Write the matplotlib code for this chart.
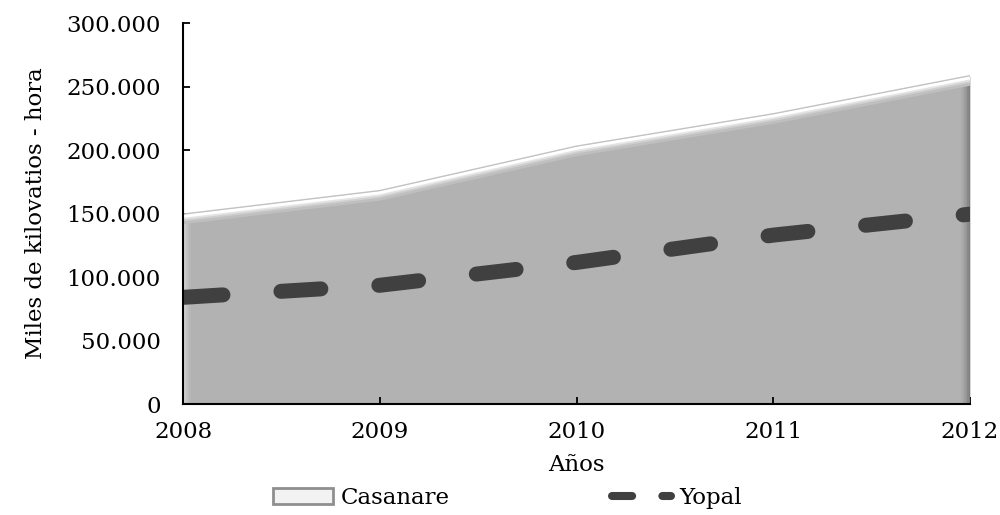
import matplotlib
matplotlib.use("Agg")
import matplotlib.pyplot as plt
from matplotlib.lines import Line2D
from matplotlib.patches import Patch
from matplotlib.ticker import FuncFormatter
import matplotlib.transforms as mtransforms

years = [2008, 2009, 2010, 2011, 2012]
casanare = [149000, 167500, 202500, 228000, 258000]
yopal = [84000, 93500, 111500, 133000, 149500]
yticks = [0, 50000, 100000, 150000, 200000, 250000, 300000]

plt.rcParams['font.family'] = ['DejaVu Serif']
FS = 16.5

fig = plt.figure(figsize=(10, 5.15), dpi=100)
ax = fig.add_axes([0.183, 0.2155, 0.787, 0.7398])

def shifted(dx, dy):
    return ax.transData + mtransforms.ScaledTranslation(dx / 100, dy / 100, fig.dpi_scale_trans)

# Casanare area
area = ax.fill_between(years, casanare, 0, color='#b2b2b2', lw=0, zorder=1)
clip = area.get_paths()[0]
# bevel on top edge
top_layers = [(0.4, '#c2c2c2', 1.4, False), (-1.8, '#ffffff', 3.2, True),
              (-4.4, '#e4e4e4', 2.0, True), (-6.2, '#cfcfcf', 2.0, True),
              (-8.0, '#bfbfbf', 2.0, True)]
for dy, c, lw, do_clip in top_layers:
    ln, = ax.plot(years, casanare, color=c, lw=lw, zorder=2, solid_capstyle='butt',
                  transform=shifted(0, dy))
    if do_clip:
        ln.set_clip_path(clip, ax.transData)
# right edge shadow
right_layers = [(-1, '#7c7c7c'), (-2.5, '#888888'), (-4, '#939393'), (-5.5, '#9d9d9d'),
                (-7, '#a5a5a5'), (-8.5, '#ababab')]
for dx, c in right_layers:
    ln, = ax.plot([years[-1], years[-1]], [0, casanare[-1]], color=c, lw=1.6, zorder=1.8,
                  solid_capstyle='butt', transform=shifted(dx, 0))
    ln.set_clip_path(clip, ax.transData)
# left edge highlight
left_layers = [(1, '#d2d2d2'), (2.5, '#cbcbcb'), (4, '#c3c3c3'), (5.5, '#bcbcbc'), (7, '#b7b7b7')]
for dx, c in left_layers:
    ln, = ax.plot([years[0], years[0]], [0, casanare[0]], color=c, lw=1.6, zorder=1.8,
                  solid_capstyle='butt', transform=shifted(dx, 0))
    ln.set_clip_path(clip, ax.transData)

# Yopal dashed line
ax.plot(years, yopal, color='#404040', lw=10.8, dashes=(2.67, 3.87),
        dash_capstyle='round', zorder=3)

ax.set_xlim(2008, 2012)
ax.set_ylim(0, 300000)
ax.set_xticks(years)
ax.set_yticks(yticks)
ax.yaxis.set_major_formatter(FuncFormatter(lambda v, p: f"{int(v):,}".replace(",", ".")))
ax.tick_params(axis='both', direction='in', length=5, width=1.3, labelsize=FS, colors='black')
ax.tick_params(axis='y', pad=16)
ax.tick_params(axis='x', pad=12)
for s in ['top', 'right']:
    ax.spines[s].set_visible(False)
for s in ['left', 'bottom']:
    ax.spines[s].set_linewidth(1.5)
    ax.spines[s].set_zorder(4)

ax.set_xlabel('Años', fontsize=FS, labelpad=8)
ax.set_ylabel('Miles de kilovatios - hora', fontsize=FS, labelpad=14)

h1 = Patch(facecolor='#f2f2f2', edgecolor='#8f8f8f', lw=2)
h2 = Line2D([0], [0], color='#404040', lw=5.8, dashes=(2.5, 3.75), dash_capstyle='round')
fig.legend([h1, h2], ['Casanare', 'Yopal'], loc='center', bbox_to_anchor=(0.5075, 0.033),
           ncol=2, frameon=False, fontsize=FS, handlelength=2.6, handletextpad=0.35,
           columnspacing=7.05)

fig.savefig('out.png', dpi=100)
